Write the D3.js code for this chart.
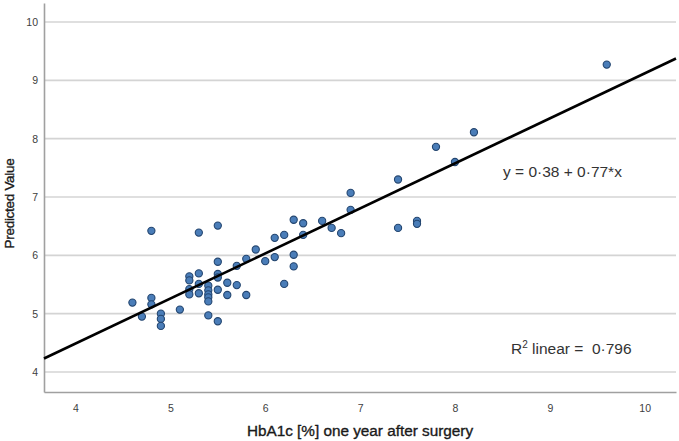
<!DOCTYPE html>
<html lang="en">
<head>
<meta charset="utf-8">
<script src="https://d3js.org/d3.v7.min.js"></script>
<style>
  body { margin: 0; background: #fff; }
  text { font-family: "Liberation Sans", Arial, sans-serif; }
</style>
</head>
<body>
<div id="chart"></div>
<script>
// observed HbA1c one year after surgery (x) and predicted value (y)
const hba1c = [
  4.6, 4.7, 4.8, 4.8, 4.8, 4.9, 4.9, 4.9, 5.1,
  5.2, 5.2, 5.2, 5.2,
  5.3, 5.3, 5.3, 5.3,
  5.4, 5.4, 5.4, 5.4, 5.4, 5.4,
  5.5, 5.5, 5.5, 5.5, 5.5, 5.5,
  5.6, 5.6, 5.7, 5.7, 5.8, 5.8, 5.9, 6.0, 6.1, 6.1, 6.2, 6.2,
  6.3, 6.3, 6.3, 6.4, 6.4, 6.6, 6.7, 6.8, 6.9, 6.9,
  7.4, 7.4, 7.6, 7.6, 7.8, 8.0, 8.2, 9.6
];
const predicted = [
  5.19, 4.95, 6.42, 5.27, 5.16, 5.00, 4.91, 4.79, 5.07,
  5.64, 5.57, 5.42, 5.33,
  6.39, 5.69, 5.51, 5.35,
  5.48, 5.40, 5.33, 5.28, 5.21, 4.97,
  6.51, 5.89, 5.68, 5.62, 5.41, 4.87,
  5.53, 5.32, 5.82, 5.49, 5.94, 5.32, 6.10, 5.90, 6.30, 5.97, 6.35, 5.51,
  6.61, 6.01, 5.81, 6.55, 6.35, 6.59, 6.47, 6.38, 7.07, 6.78,
  7.30, 6.47, 6.59, 6.54, 7.86, 7.60, 8.11, 9.27
];

const xTicks = [4, 5, 6, 7, 8, 9, 10];
const yTicks = [4, 5, 6, 7, 8, 9, 10];

// fitted line as drawn
const fitIntercept = 1.40;
const fitSlope = 0.772;
const equationLabel = "y = 0\u00b738 + 0\u00b777*x";
const r2Value = "0\u00b7796";

const xTitle = "HbA1c [%] one year after surgery";
const yTitle = "Predicted Value";

const W = 679, H = 441;
const plot = {left: 44, right: 676, top: 3, bottom: 392};

const svg = d3.select("#chart").append("svg")
  .attr("width", W).attr("height", H);

const x = d3.scaleLinear().domain([3.668, 10.33]).range([plot.left, plot.right]);
const y = d3.scaleLinear().domain([3.657, 10.326]).range([plot.bottom, plot.top]);

// horizontal grid lines
svg.append("g").selectAll("line")
  .data(yTicks).enter().append("line")
  .attr("x1", plot.left).attr("x2", plot.right)
  .attr("y1", d => y(d)).attr("y2", d => y(d))
  .attr("stroke", "#d4d4d4").attr("stroke-width", 1.6);

// axes (no tick marks)
const xAxis = svg.append("g")
  .attr("transform", "translate(0," + plot.bottom + ")")
  .call(d3.axisBottom(x).tickValues(xTicks).tickSize(0).tickPadding(13).tickFormat(d3.format("d")));
const yAxis = svg.append("g")
  .attr("transform", "translate(" + plot.left + ",0)")
  .call(d3.axisLeft(y).tickValues(yTicks).tickSize(0).tickPadding(6).tickFormat(d3.format("d")));

[xAxis, yAxis].forEach(g => {
  g.select(".domain").attr("stroke", "#a0a0a0").attr("stroke-width", 1.6);
  g.selectAll("text")
    .attr("fill", "#404040")
    .style("font-size", "10.5px")
    .style("font-family", "'Liberation Sans', Arial, sans-serif");
});

// points
svg.append("g").selectAll("circle")
  .data(hba1c.map((v, i) => ({x: v, y: predicted[i]})))
  .enter().append("circle")
  .attr("cx", d => x(d.x))
  .attr("cy", d => y(d.y))
  .attr("r", 3.6)
  .attr("fill", "#4a7db8")
  .attr("stroke", "#23456f")
  .attr("stroke-width", 1.1);

// fit line across the x range
const xd = x.domain();
svg.append("path")
  .datum(xd.map(v => ({x: v, y: fitIntercept + fitSlope * v})))
  .attr("d", d3.line().x(d => x(d.x)).y(d => y(d.y)))
  .attr("fill", "none")
  .attr("stroke", "#000")
  .attr("stroke-width", 2.6);

// annotations
svg.append("text")
  .attr("x", 503).attr("y", 177)
  .attr("fill", "#333")
  .style("font-size", "15.5px")
  .text(equationLabel);

const r2 = svg.append("text")
  .attr("x", 511).attr("y", 354)
  .attr("fill", "#333")
  .style("font-size", "15.5px");
r2.append("tspan").text("R");
r2.append("tspan").attr("dy", -6).style("font-size", "10px").text("2");
r2.append("tspan").attr("dy", 6).text(" linear = \u00a0" + r2Value);

// axis titles
svg.append("text")
  .attr("x", (plot.left + plot.right) / 2).attr("y", 436)
  .attr("text-anchor", "middle")
  .attr("fill", "#1a1a1a")
  .attr("stroke", "#1a1a1a").attr("stroke-width", 0.35)
  .style("font-size", "15.3px")
  .text(xTitle);

svg.append("text")
  .attr("transform", "translate(14," + ((plot.top + plot.bottom) / 2 + 6) + ") rotate(-90)")
  .attr("text-anchor", "middle")
  .attr("fill", "#1a1a1a")
  .attr("stroke", "#1a1a1a").attr("stroke-width", 0.35)
  .style("font-size", "13.5px")
  .style("letter-spacing", "-0.3px")
  .text(yTitle);
</script>
</body>
</html>
